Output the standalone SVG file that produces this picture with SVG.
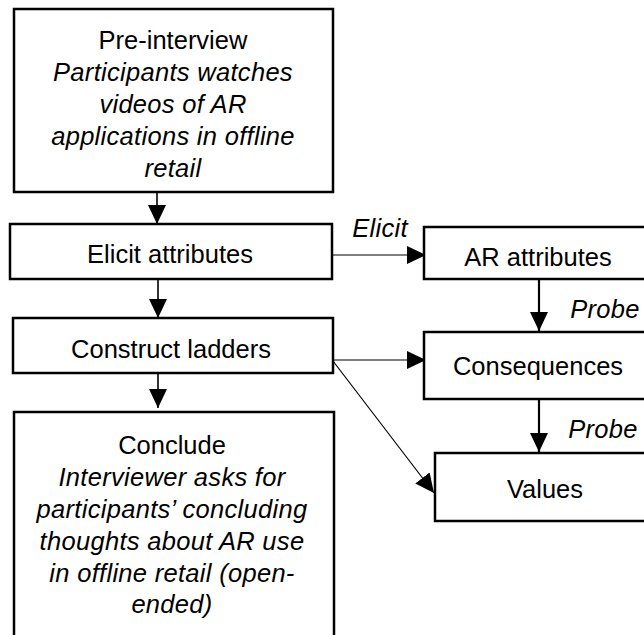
<svg xmlns="http://www.w3.org/2000/svg" width="644" height="635" viewBox="0 0 644 635">
  <defs>
    <style>
      .box { fill: #ffffff; stroke: #000000; stroke-width: 2.5; }
      .t { font-family: "Liberation Sans", Arial, Helvetica, sans-serif; font-size: 25.5px; fill: #000000; text-anchor: middle; }
      .i { font-style: italic; letter-spacing: 0.3px; }
      .thin { stroke: #000000; stroke-width: 1.2; fill: none; }
      .mid { stroke: #000000; stroke-width: 1.6; fill: none; }
      .thick { stroke: #000000; stroke-width: 2.2; fill: none; }
    </style>
    <marker id="head" markerUnits="userSpaceOnUse" markerWidth="19" markerHeight="18" refX="19" refY="9" orient="auto" viewBox="0 0 19 18">
      <path d="M0,0 L19,9 L0,18 Z" fill="#000000"/>
    </marker>
  </defs>

  <rect x="0" y="0" width="644" height="635" fill="#ffffff"/>

  <!-- connectors -->
  <g id="connectors">
    <line class="mid" x1="157" y1="192" x2="157" y2="224" marker-end="url(#head)"/>
    <line class="mid" x1="158" y1="279" x2="158" y2="318" marker-end="url(#head)"/>
    <line class="mid" x1="158" y1="373" x2="158" y2="408" marker-end="url(#head)"/>
    <line class="thin" x1="332" y1="255" x2="426" y2="255" marker-end="url(#head)"/>
    <line class="thick" x1="539" y1="279" x2="539" y2="331" marker-end="url(#head)"/>
    <line class="thick" x1="539" y1="399" x2="539" y2="452" marker-end="url(#head)"/>
    <line class="thin" x1="333" y1="360" x2="426" y2="360" marker-end="url(#head)"/>
    <line class="thin" x1="333" y1="361" x2="434" y2="493" marker-end="url(#head)"/>
  </g>

  <!-- connector labels -->
  <g id="labels">
    <text class="t i" x="380" y="237">Elicit</text>
    <text class="t i" x="605" y="318">Probe</text>
    <text class="t i" x="603" y="438">Probe</text>
  </g>

  <g id="pre-interview">
    <rect class="box" x="14" y="9" width="319" height="183"/>
    <text class="t" x="173" y="49">Pre-interview</text>
    <text class="t i" x="173" y="81">Participants watches</text>
    <text class="t i" x="173" y="113">videos of AR</text>
    <text class="t i" x="173" y="145">applications in offline</text>
    <text class="t i" x="173" y="177">retail</text>
  </g>

  <g id="elicit-attributes">
    <rect class="box" x="10" y="224" width="322" height="55"/>
    <text class="t" x="170" y="263">Elicit attributes</text>
  </g>

  <g id="construct-ladders">
    <rect class="box" x="13" y="318" width="320" height="55"/>
    <text class="t" x="171" y="358">Construct ladders</text>
  </g>

  <g id="conclude">
    <rect class="box" x="14" y="412" width="320" height="240"/>
    <text class="t" x="172" y="454">Conclude</text>
    <text class="t i" x="172" y="486">Interviewer asks for</text>
    <text class="t i" x="172" y="518">participants’ concluding</text>
    <text class="t i" x="172" y="550">thoughts about AR use</text>
    <text class="t i" x="172" y="582">in offline retail (open-</text>
    <text class="t i" x="172" y="613">ended)</text>
  </g>

  <g id="ar-attributes">
    <rect class="box" x="424" y="227" width="240" height="52"/>
    <text class="t" x="538" y="266">AR attributes</text>
  </g>

  <g id="consequences">
    <rect class="box" x="424" y="332" width="240" height="67"/>
    <text class="t" x="538" y="375">Consequences</text>
  </g>

  <g id="values">
    <rect class="box" x="435" y="453" width="240" height="68"/>
    <text class="t" x="545" y="498">Values</text>
  </g>
</svg>
